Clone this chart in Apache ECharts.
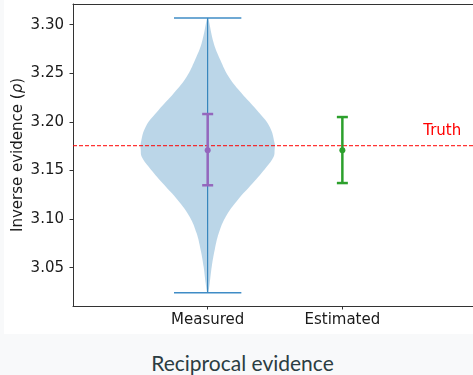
<!DOCTYPE html>
<html>
<head>
<meta charset="utf-8">
<title>Reciprocal evidence</title>
<script src="https://cdn.jsdelivr.net/npm/echarts@6/dist/echarts.min.js"></script>
<style>
    body { margin: 0; width: 473px; height: 375px; overflow: hidden; position: relative; background: #f8f9fa; }
    #panel { position: absolute; left: 4px; top: 0; width: 469px; height: 334px; background: #fff; }
    #main { position: absolute; left: 0; top: 0; width: 473px; height: 334px; }
    #caption { position: absolute; left: 6px; top: 350px; width: 473px; line-height: 26px; text-align: center;
               font-family: Lato, "Open Sans", sans-serif; font-size: 21px; color: #2b3d42; }
</style>
</head>
<body>
<div id="panel"></div>
<div id="main"></div>
<div id="caption">Reciprocal evidence</div>
<script type="text/javascript">
    // categories sit at x = 1, 2
    var categories = ['Measured', 'Estimated'];
    var yTicks = [3.05, 3.10, 3.15, 3.20, 3.25, 3.30];

    // violin outline (Measured), top to bottom: value and half width in x units
    var violinY = [3.3069, 3.2809, 3.2637, 3.2465, 3.2294, 3.2122, 3.1951, 3.1780, 3.1711, 3.1642,
                   3.1539, 3.1368, 3.1197, 3.1025, 3.0854, 3.0683, 3.0510, 3.0340, 3.0243];
    var violinHalfWidth = [0.004, 0.045, 0.094, 0.156, 0.252, 0.364, 0.460, 0.497, 0.497, 0.490,
                           0.438, 0.334, 0.223, 0.134, 0.082, 0.052, 0.030, 0.015, 0.004];
    var measuredMin = 3.0243;
    var measuredMax = 3.3069;

    // error bars: low, centre, high
    var errLow = [3.1348, 3.1371];
    var errMid = [3.1708, 3.1708];
    var errHigh = [3.2081, 3.2050];
    var errColors = ['#9467bd', '#2ca02c'];

    var truth = 3.1755;

    var dom = document.getElementById('main');
    var myChart = echarts.init(dom);
    var font = '"DejaVu Sans", sans-serif';

    function renderViolin(params, api) {
        var pos = api.value(0);
        var right = [], left = [];
        for (var i = 0; i < violinY.length; i++) {
            right.push(api.coord([pos + violinHalfWidth[i], violinY[i]]));
            left.push(api.coord([pos - violinHalfWidth[i], violinY[i]]));
        }
        var lo = api.coord([pos, api.value(1)]);
        var hi = api.coord([pos, api.value(2)]);
        var capHalf = api.size([0.25, 0])[0];
        var fill = { fill: 'rgba(31,119,180,0.3)' };
        return {
            type: 'group',
            children: [
                { type: 'polygon', shape: { points: [hi].concat(right, [lo]), smooth: 0.4 }, style: fill },
                { type: 'polygon', shape: { points: [hi].concat(left, [lo]), smooth: 0.4 }, style: fill },
                { type: 'line', shape: { x1: lo[0], y1: lo[1], x2: hi[0], y2: hi[1] },
                  style: { stroke: '#1f77b4', lineWidth: 1 } },
                { type: 'line', shape: { x1: lo[0] - capHalf, y1: lo[1], x2: lo[0] + capHalf, y2: lo[1] },
                  style: { stroke: '#3f8cc6', lineWidth: 1.5 } },
                { type: 'line', shape: { x1: hi[0] - capHalf, y1: hi[1], x2: hi[0] + capHalf, y2: hi[1] },
                  style: { stroke: '#3f8cc6', lineWidth: 1.5 } }
            ]
        };
    }

    function renderErr(params, api) {
        var x = api.value(0);
        var lo = api.coord([x, api.value(1)]);
        var mid = api.coord([x, api.value(2)]);
        var hi = api.coord([x, api.value(3)]);
        var color = errColors[params.dataIndex];
        var cap = 5.5;
        var st = { stroke: color, lineWidth: 2.5 };
        return {
            type: 'group',
            children: [
                { type: 'line', shape: { x1: lo[0], y1: lo[1], x2: hi[0], y2: hi[1] }, style: st },
                { type: 'line', shape: { x1: lo[0] - cap, y1: lo[1], x2: lo[0] + cap, y2: lo[1] }, style: st },
                { type: 'line', shape: { x1: hi[0] - cap, y1: hi[1], x2: hi[0] + cap, y2: hi[1] }, style: st },
                { type: 'circle', shape: { cx: mid[0], cy: mid[1], r: 3 }, style: { fill: color } }
            ]
        };
    }

    function renderTruth(params, api) {
        var p = api.coord([0, api.value(0)]);
        var t = api.coord([2.6, api.value(0) + 0.01]);
        var cs = params.coordSys;
        return {
            type: 'group',
            children: [
                { type: 'line', shape: { x1: cs.x, y1: p[1], x2: cs.x + cs.width, y2: p[1] },
                  style: { stroke: '#ff0000', lineWidth: 1, lineDash: [4, 2] } },
                { type: 'text', x: t[0], y: t[1] + 3,
                  style: { text: 'Truth', fill: '#ff0000', font: '15px ' + font,
                           textAlign: 'left', textVerticalAlign: 'bottom' } }
            ]
        };
    }

    var option = {
        animation: false,
        grid: { left: 73, right: 0, top: 4, bottom: 28, outerBoundsMode: 'none', containLabel: false },
        xAxis: [{
            type: 'value',
            min: 0,
            max: 2.97,
            axisLine: { lineStyle: { color: '#333', width: 1 } },
            axisTick: { length: 3.5, lineStyle: { color: '#333' }, customValues: [1, 2] },
            axisLabel: {
                customValues: [1, 2],
                margin: 7,
                color: '#1a1a1a',
                fontFamily: font,
                fontSize: 15,
                formatter: function (v) { return categories[Math.round(v) - 1] || ''; }
            },
            splitLine: { show: false }
        }, {
            type: 'value',
            position: 'top',
            min: 0,
            max: 2.97,
            axisLine: { show: true, lineStyle: { color: '#333', width: 1 } },
            axisTick: { show: false },
            axisLabel: { show: false },
            splitLine: { show: false }
        }],
        yAxis: {
            type: 'value',
            min: 3.0106,
            max: 3.3213,
            name: 'Inverse evidence ({i|ρ})',
            nameLocation: 'middle',
            nameGap: 47,
            nameMoveOverlap: false,
            nameTextStyle: {
                color: '#1a1a1a', fontFamily: font, fontSize: 15,
                rich: { i: { fontStyle: 'italic', fontFamily: font, fontSize: 15, color: '#1a1a1a' } }
            },
            axisLine: { show: true, lineStyle: { color: '#333', width: 1 } },
            axisTick: { show: true, length: 3.5, lineStyle: { color: '#333' }, customValues: yTicks },
            axisLabel: {
                customValues: yTicks,
                margin: 9,
                color: '#1a1a1a',
                fontFamily: font,
                fontSize: 15,
                formatter: function (v) { return v.toFixed(2); }
            },
            splitLine: { show: false }
        },
        series: [{
            type: 'custom',
            renderItem: renderViolin,
            data: [[1, measuredMin, measuredMax]],
            z: 1
        }, {
            type: 'custom',
            renderItem: renderTruth,
            data: [[truth]],
            z: 2
        }, {
            type: 'custom',
            renderItem: renderErr,
            data: [[1, errLow[0], errMid[0], errHigh[0]], [2, errLow[1], errMid[1], errHigh[1]]],
            z: 3
        }]
    };

    myChart.setOption(option, true);
</script>
</body>
</html>
